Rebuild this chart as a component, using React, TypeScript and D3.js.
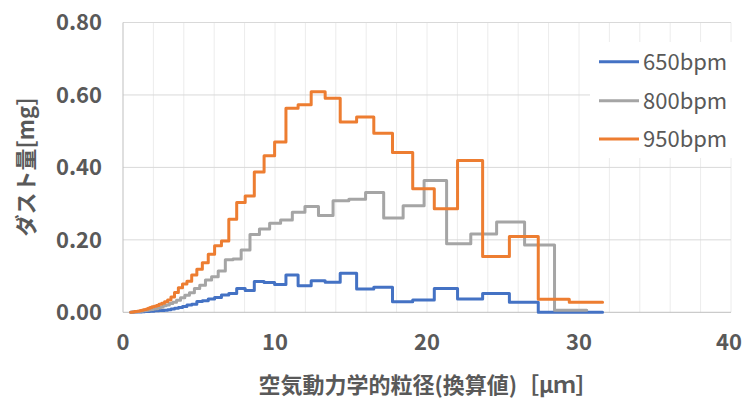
import React from "react";
import * as d3 from "d3";

// Bin boundaries (aerodynamic diameter, µm)
const edgesGray = [0.523, 0.542, 0.583, 0.626, 0.673, 0.723, 0.777, 0.835, 0.898, 0.965, 1.037, 1.114, 1.197, 1.286, 1.382, 1.486, 1.596, 1.715, 1.843, 1.981, 2.129, 2.288, 2.458, 2.642, 2.839, 3.051, 3.278, 3.523, 3.786, 4.068, 4.371, 4.698, 5.048, 5.425, 5.829, 6.264, 6.732, 7.234, 7.774, 8.354, 8.977, 9.647, 10.37, 11.14, 11.97, 12.86, 13.82, 14.86, 15.96, 17.15, 18.43, 19.81, 21.29, 22.88, 24.58, 26.42, 28.39, 30.51];
const edgesShifted = [0.503, 0.560, 0.603, 0.647, 0.696, 0.748, 0.803, 0.863, 0.929, 0.998, 1.072, 1.152, 1.238, 1.330, 1.429, 1.537, 1.650, 1.773, 1.906, 2.048, 2.201, 2.366, 2.542, 2.732, 2.936, 3.155, 3.389, 3.643, 3.915, 4.206, 4.520, 4.858, 5.220, 5.609, 6.027, 6.477, 6.961, 7.480, 8.038, 8.638, 9.282, 9.975, 10.72, 11.52, 12.38, 13.30, 14.29, 15.37, 16.50, 17.73, 19.06, 20.48, 22.01, 23.66, 25.42, 27.32, 29.36, 31.55];

// Dust amount per bin [mg]
const values650 = [0, 0, 0, 0, 0.0005, 0.0005, 0.001, 0.001, 0.001, 0.001,
  0.001, 0.001, 0.0015, 0.0015, 0.002, 0.002, 0.0025, 0.003, 0.003, 0.004,
  0.004, 0.005, 0.005, 0.006, 0.007, 0.009, 0.011, 0.013, 0.016,
  0.020, 0.022, 0.030, 0.032, 0.037, 0.041, 0.048, 0.052, 0.066, 0.060,
  0.085, 0.082, 0.077, 0.103, 0.073, 0.087,
  0.083, 0.108, 0.064, 0.069, 0.029, 0.034, 0.066, 0.037, 0.052, 0.028, 0.000, 0.000];
const values800 = [0, 0, 0, 0.001, 0.001, 0.001, 0.001, 0.001, 0.002, 0.002,
  0.002, 0.003, 0.003, 0.004, 0.004, 0.005, 0.006, 0.007, 0.008, 0.009,
  0.010, 0.012, 0.014, 0.018, 0.020, 0.024, 0.028, 0.033, 0.040,
  0.047, 0.054, 0.066, 0.075, 0.089, 0.098, 0.114, 0.145, 0.147, 0.172,
  0.215, 0.230, 0.246, 0.255, 0.276, 0.292,
  0.267, 0.308, 0.312, 0.331, 0.260, 0.294, 0.364, 0.189, 0.216, 0.249, 0.186, 0.006];
const values950 = [0, 0, 0.001, 0.001, 0.001, 0.002, 0.002, 0.002, 0.003, 0.003,
  0.004, 0.005, 0.006, 0.007, 0.008, 0.009, 0.011, 0.013, 0.015, 0.017,
  0.019, 0.022, 0.025, 0.029, 0.034, 0.042, 0.055, 0.068, 0.078,
  0.086, 0.103, 0.119, 0.137, 0.160, 0.184, 0.197, 0.257, 0.303, 0.321,
  0.387, 0.432, 0.470, 0.563, 0.573, 0.609,
  0.591, 0.525, 0.539, 0.494, 0.441, 0.341, 0.286, 0.419, 0.154, 0.209, 0.036, 0.028];

const seriesNames = ["650bpm", "800bpm", "950bpm"];
const seriesColors = ["#4472C4", "#A5A5A5", "#ED7D31"];
const xTicks = [0, 10, 20, 30, 40];
const xMinorTicks = [2, 4, 6, 8, 10, 12, 14, 16, 18, 20, 22, 24, 26, 28, 30, 32, 34, 36, 38, 40];
const yTicks = [0, 0.2, 0.4, 0.6, 0.8];
const xTitle = "空気動力学的粒径(換算値)［μｍ］";
const yTitle = "ダスト量[mg]";

const W = 743;
const H = 399;
const FONT = "'Noto Sans CJK JP', 'Noto Sans', sans-serif";

export default function App() {
  const x = d3.scaleLinear().domain([0, 40]).range([123, 731]);
  const y = d3.scaleLinear().domain([0, 0.8]).range([312.3, 22.5]);

  const makePts = (edges: number[], vals: number[]) => {
    const n = Math.min(vals.length, edges.length - 1);
    const pts: [number, number][] = [];
    for (let i = 0; i < n; i++) pts.push([edges[i], vals[i]]);
    pts.push([edges[n], vals[n - 1]]);
    return pts;
  };
  const line = d3
    .line<[number, number]>()
    .x((d) => x(d[0]))
    .y((d) => y(d[1]))
    .curve(d3.curveStepAfter);

  const series = [
    makePts(edgesShifted, values650),
    makePts(edgesGray, values800),
    makePts(edgesShifted, values950),
  ];

  const legendY = [61.7, 100.7, 139];

  return (
    <svg
      width={W}
      height={H}
      style={{ position: "absolute", left: 0, top: 0, background: "#fff" }}
      fontFamily={FONT}
    >
      <rect x={0} y={0} width={W} height={H} fill="#fff" />
      {xMinorTicks.map((t) => (
        <line key={"vx" + t} x1={x(t)} x2={x(t)} y1={y(0.8)} y2={y(0)} stroke="#ececec" strokeWidth={1} />
      ))}
      {yTicks.slice(1).map((t) => (
        <line key={"hy" + t} x1={x(0)} x2={x(40)} y1={y(t)} y2={y(t)} stroke="#d9d9d9" strokeWidth={1} />
      ))}
      <line x1={x(0)} x2={x(0)} y1={y(0.8)} y2={y(0)} stroke="#bfbfbf" strokeWidth={1} />
      <line x1={x(0)} x2={x(40)} y1={y(0)} y2={y(0)} stroke="#bfbfbf" strokeWidth={1} />

      {yTicks.map((t) => (
        <text key={"yl" + t} x={102} y={y(t)} dy="0.36em" textAnchor="end" fontSize={22} fontWeight="bold" fill="#595959">
          {t.toFixed(2)}
        </text>
      ))}
      {xTicks.map((t) => (
        <text
          key={"xl" + t}
          x={Math.min(x(t), W - 14)}
          y={350}
          textAnchor="middle"
          fontSize={22}
          fontWeight="bold"
          fill="#595959"
        >
          {t}
        </text>
      ))}

      {series.map((pts, i) => (
        <path
          key={"s" + i}
          d={line(pts) || ""}
          fill="none"
          stroke={seriesColors[i]}
          strokeWidth={3}
          strokeLinejoin="round"
          strokeLinecap="round"
        />
      ))}

      <rect x={590} y={42} width={145} height={116} fill="#fff" />
      {seriesNames.map((n, i) => (
        <g key={"lg" + i}>
          <line x1={599} x2={639} y1={legendY[i]} y2={legendY[i]} stroke={seriesColors[i]} strokeWidth={3} />
          <text x={643} y={legendY[i]} dy="0.36em" fontSize={22} fill="#595959">
            {n}
          </text>
        </g>
      ))}

      <text
        transform={`translate(34,167) rotate(-90)`}
        textAnchor="middle"
        fontSize={22}
        fontWeight="bold"
        fill="#595959"
      >
        {yTitle}
      </text>
      <text x={428} y={393} textAnchor="middle" fontSize={22} fontWeight="bold" fill="#595959">
        {xTitle}
      </text>
    </svg>
  );
}
